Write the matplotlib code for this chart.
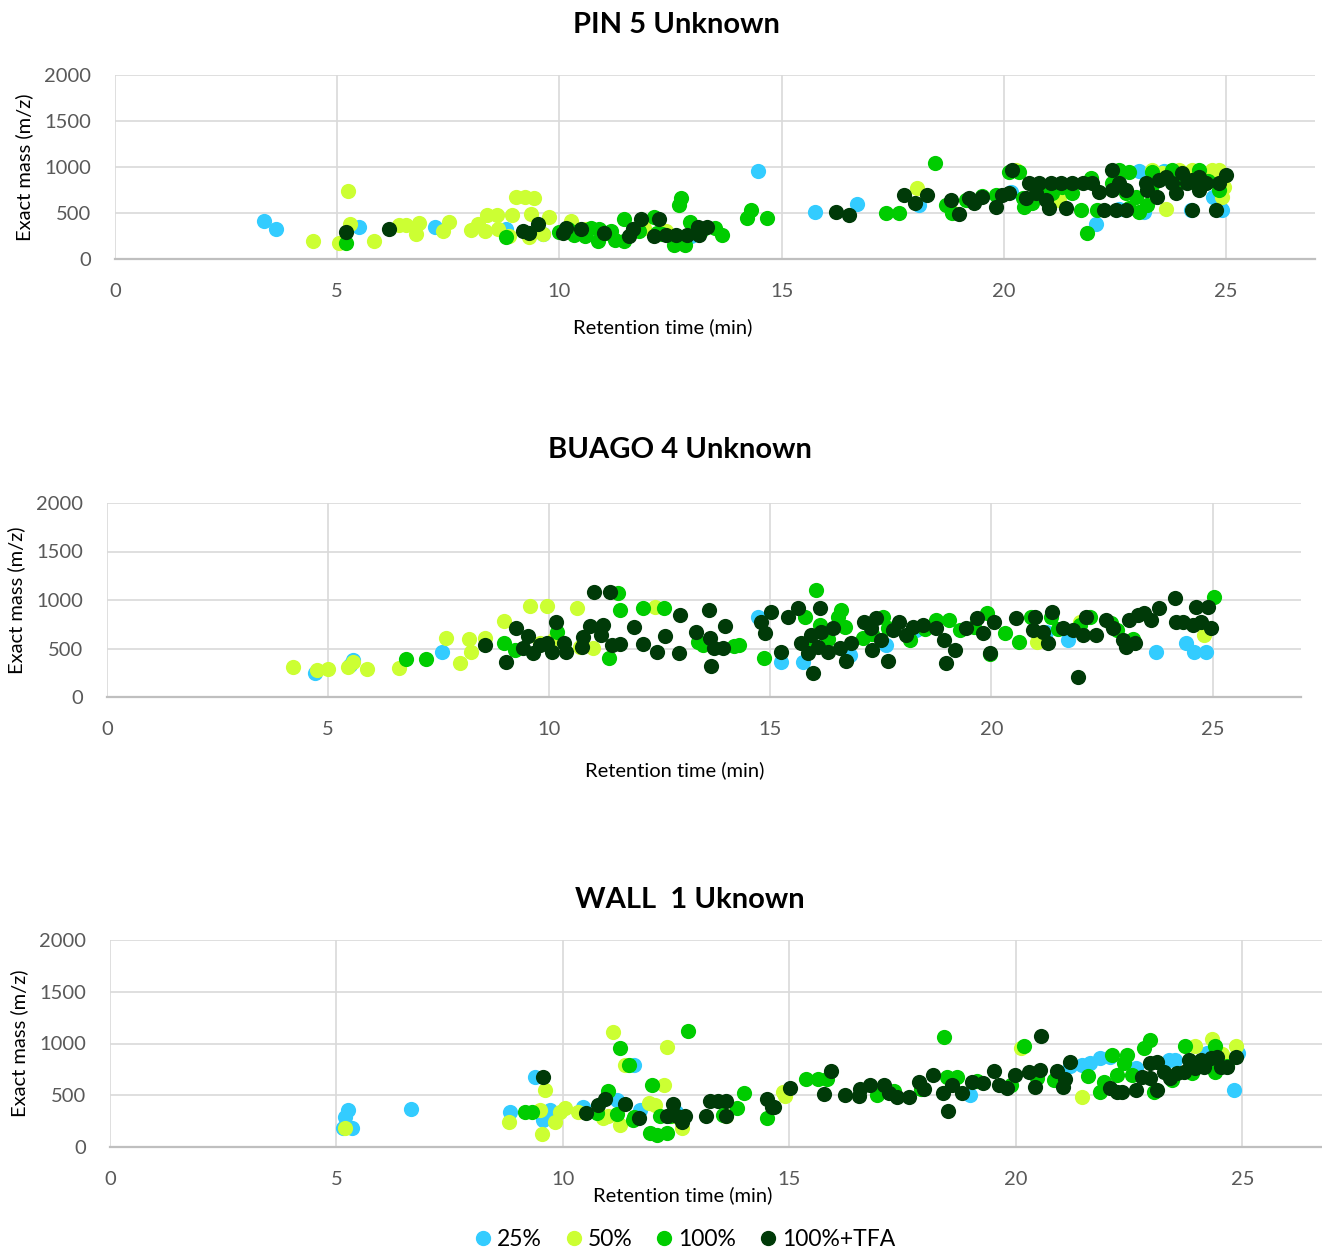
import matplotlib
matplotlib.use('Agg')
from matplotlib import pyplot as plt
from matplotlib.lines import Line2D

plt.rcParams['font.family'] = ['Lato', 'DejaVu Sans']

series_names = ['25%', '50%', '100%', '100%+TFA']
series_colors = ['#33CCFF', '#CCFF33', '#00CC00', '#003A08']

# PIN 5 Unknown  (retention time, exact mass)
pin_25 = [(3.35, 413), (3.62, 326), (5.49, 348), (7.2, 348), (8.8, 326), (9.62, 272), (12.97, 250),
          (14.46, 957), (15.76, 511), (16.7, 598), (18.1, 587), (20.17, 728), (22.08, 380), (23.04, 960),
          (23.16, 511), (24.2, 533), (24.7, 674), (24.8, 674), (24.89, 543), (24.9, 533), (23.6, 960),
          (22.6, 540)]
pin_50 = [(4.45, 200), (5.05, 170), (5.25, 740), (5.28, 380), (5.82, 200), (6.38, 370), (6.54, 370),
          (6.83, 391), (6.78, 270), (7.37, 304), (7.52, 402), (8.02, 315), (8.16, 380), (8.32, 304),
          (8.38, 478), (8.59, 478), (8.93, 478), (8.62, 330), (9.02, 679), (9.23, 679), (9.42, 667),
          (9.35, 489), (9.77, 456), (9.32, 239), (8.86, 250), (10.25, 413), (9.62, 272), (18.05, 772),
          (21.25, 641), (23.65, 543), (23.34, 967), (23.94, 967), (24.24, 967), (24.69, 967), (24.84, 967),
          (24.9, 674), (24.95, 783), (18.84, 511), (20.28, 967), (23.56, 935), (10.6, 330), (11.9, 340),
          (12.4, 300)]
pin_100 = [(5.19, 174), (8.8, 240), (10.0, 293), (10.33, 266), (10.57, 250), (10.72, 341), (10.87, 196),
           (11.03, 285), (11.17, 304), (11.26, 206), (11.45, 435), (11.45, 196), (11.65, 326), (12.12, 456),
           (12.19, 283), (12.58, 150), (12.82, 150), (12.7, 587), (12.73, 663), (12.93, 402), (13.51, 341),
           (13.66, 266), (14.21, 446), (14.31, 533), (14.68, 446), (18.46, 1047), (17.35, 500), (17.65, 500),
           (18.7, 587), (19.15, 641), (18.84, 500), (19.82, 696), (20.12, 949), (20.35, 949), (20.42, 663),
           (20.46, 569), (20.64, 609), (21.09, 717), (21.54, 717), (21.73, 533), (21.87, 286), (21.96, 880),
           (22.1, 533), (22.44, 826), (22.59, 967), (22.75, 717), (22.82, 949), (22.97, 677), (23.04, 514),
           (23.22, 587), (23.34, 949), (23.79, 967), (24.39, 967), (24.84, 750), (22.82, 550), (23.34, 800),
           (10.2, 330), (10.45, 300), (10.9, 330), (11.1, 280), (11.8, 300), (12.3, 270), (13.2, 320),
           (19.5, 690), (20.9, 700), (21.3, 780), (23.9, 830), (24.6, 850)]
pin_tfa = [(5.19, 293), (6.16, 326), (9.17, 304), (9.32, 285), (9.51, 380), (10.09, 285), (10.14, 341),
           (10.48, 330), (11.0, 285), (11.57, 250), (11.65, 326), (11.84, 435), (12.23, 435), (12.12, 250),
           (12.39, 266), (12.62, 266), (12.88, 266), (13.15, 266), (13.12, 352), (13.31, 352), (16.22, 514),
           (16.52, 478), (17.76, 696), (18.0, 612), (18.27, 696), (18.81, 641), (19.0, 489), (19.22, 663),
           (19.33, 609), (19.51, 674), (19.82, 569), (19.96, 696), (20.12, 717), (20.18, 967), (20.5, 663),
           (20.57, 826), (20.72, 717), (20.8, 826), (20.94, 641), (21.02, 554), (21.06, 826), (21.28, 826),
           (21.39, 554), (21.54, 826), (21.77, 826), (21.99, 826), (22.14, 732), (22.26, 533), (22.44, 967),
           (22.44, 750), (22.52, 533), (22.6, 826), (22.75, 533), (22.75, 750), (23.19, 826), (23.21, 750),
           (23.45, 677), (23.49, 859), (23.64, 894), (23.79, 826), (23.87, 717), (24.01, 935), (24.12, 826),
           (24.24, 533), (24.24, 859), (24.39, 894), (24.39, 750), (24.54, 826), (24.77, 533), (24.84, 826),
           (24.99, 913)]

# BUAGO 4 Unknown
buago_25 = [(4.7, 247), (5.56, 380), (5.5, 330), (7.57, 467), (14.72, 828), (15.25, 364), (15.74, 364),
            (16.8, 433), (17.62, 536), (18.3, 690), (21.24, 673), (21.72, 587), (23.71, 464), (24.4, 557),
            (24.59, 467), (24.86, 467)]
buago_50 = [(4.2, 313), (4.74, 278), (5.0, 289), (5.45, 313), (5.56, 361), (5.87, 289), (6.6, 302),
            (7.66, 608), (7.98, 350), (8.18, 598), (8.24, 467), (8.54, 611), (8.97, 784), (9.56, 941),
            (9.95, 941), (10.62, 917), (10.69, 519), (10.98, 505), (12.39, 931), (24.8, 639), (21.04, 570),
            (22.0, 776), (9.8, 560), (10.1, 600)]
buago_100 = [(6.77, 392), (7.21, 392), (8.97, 557), (9.22, 485), (10.17, 670), (11.35, 402), (11.55, 1075),
             (11.6, 897), (12.12, 917), (12.59, 917), (13.36, 570), (13.47, 536), (14.17, 529), (14.3, 536),
             (16.03, 1103), (14.85, 402), (15.78, 828), (16.12, 742), (16.6, 897), (16.52, 828), (16.68, 725),
             (17.09, 608), (17.54, 828), (17.65, 711), (18.15, 587), (18.75, 794), (19.05, 794), (19.28, 690),
             (19.91, 866), (20.3, 660), (20.63, 570), (20.9, 828), (21.35, 828), (22.0, 742), (22.22, 828),
             (22.85, 690), (25.04, 1034), (15.9, 540), (16.3, 600), (17.3, 650), (18.5, 700), (19.6, 720),
             (19.96, 440), (21.5, 700), (22.7, 760), (23.2, 600)]
buago_tfa = [(8.54, 536), (9.02, 364), (9.25, 714), (9.52, 629), (9.4, 505), (9.63, 454), (9.79, 536),
             (9.94, 557), (10.07, 464), (10.16, 773), (10.34, 557), (10.39, 467), (10.76, 622), (10.73, 519),
             (10.92, 735), (11.01, 1086), (11.18, 639), (11.21, 742), (11.37, 1086), (11.41, 536), (11.61, 546),
             (11.91, 725), (12.12, 546), (12.44, 464), (12.62, 629), (12.96, 845), (12.93, 454), (13.33, 673),
             (13.61, 897), (13.63, 608), (13.72, 508), (13.65, 323), (13.92, 508), (13.97, 735),
             (15.02, 879), (14.8, 776), (14.87, 660), (15.39, 828), (15.62, 917), (16.12, 917), (15.25, 464),
             (15.7, 557), (15.93, 639), (15.96, 247), (16.15, 673), (15.85, 454), (16.07, 519), (16.3, 464),
             (16.41, 711), (16.57, 505), (16.7, 371), (16.83, 557), (17.11, 776), (17.28, 711), (17.31, 485),
             (17.39, 814), (17.51, 587), (17.65, 371), (17.77, 690), (17.92, 776), (18.07, 639), (18.22, 725),
             (18.45, 742), (18.75, 711), (18.92, 587), (18.97, 350), (19.17, 485), (19.43, 714), (19.67, 814),
             (19.8, 660), (19.96, 454), (20.05, 776), (20.56, 814), (20.98, 828), (20.93, 690), (21.16, 673),
             (21.27, 557), (21.38, 879), (21.61, 711), (21.84, 690), (21.95, 209), (22.06, 639), (22.14, 828),
             (22.37, 639), (22.6, 794), (22.74, 711), (22.97, 587), (23.05, 519), (23.24, 557), (23.12, 794),
             (23.31, 845), (23.46, 866), (23.61, 794), (23.8, 917), (24.14, 1021), (24.18, 776), (24.33, 776),
             (24.55, 742), (24.63, 931), (24.74, 776), (24.89, 931), (24.97, 711)]

# WALL 1 Uknown
wall_25 = [(5.26, 357), (5.19, 293), (5.15, 180), (5.34, 180), (6.64, 364), (8.83, 341), (9.39, 679),
           (9.56, 261), (9.72, 357), (10.45, 389), (11.19, 454), (11.56, 792), (11.7, 357), (12.5, 340),
           (18.99, 502), (21.2, 780), (21.46, 792), (21.64, 811), (21.86, 860), (22.08, 873), (22.64, 763),
           (23.37, 841), (23.52, 841), (24.81, 551), (24.22, 908), (24.9, 908)]
wall_50 = [(5.19, 180), (8.8, 245), (9.61, 551), (9.53, 126), (9.5, 357), (9.83, 245), (9.94, 341),
           (10.05, 374), (10.34, 341), (10.89, 277), (11.1, 1114), (11.26, 213), (11.37, 792), (11.89, 422),
           (12.04, 406), (12.22, 599), (12.29, 963), (12.63, 180), (14.86, 531), (14.91, 493), (20.11, 953),
           (21.46, 480), (23.96, 976), (24.33, 1040), (24.85, 976), (24.54, 895), (11.0, 300), (12.4, 300),
           (13.6, 300)]
wall_100 = [(9.17, 341), (9.31, 341), (11.0, 544), (11.26, 953), (11.45, 792), (11.96, 599), (12.75, 1124),
            (13.99, 519), (13.84, 374), (14.5, 277), (11.19, 319), (11.56, 293), (11.93, 132), (12.07, 116),
            (12.29, 132), (12.15, 300), (12.37, 300), (13.54, 309), (10.75, 325), (11.54, 260), (15.37, 654),
            (15.64, 654), (15.82, 654), (16.93, 502), (18.42, 1060), (18.48, 679), (18.7, 679), (19.14, 640),
            (20.17, 976), (20.47, 663), (20.83, 647), (21.6, 686), (21.86, 534), (21.94, 631), (22.12, 889),
            (22.23, 696), (22.38, 809), (22.45, 889), (22.56, 696), (22.82, 953), (22.97, 1034), (23.04, 534),
            (23.45, 647), (23.74, 976), (23.89, 712), (24.4, 976), (24.4, 728), (24.65, 780), (17.3, 540),
            (17.9, 560), (19.9, 600)]
wall_tfa = [(9.56, 679), (10.51, 325), (10.78, 406), (10.93, 461), (11.36, 412), (11.67, 277), (12.29, 300),
            (12.44, 415), (12.52, 300), (12.63, 245), (12.7, 300), (13.16, 300), (13.25, 448), (13.43, 448),
            (13.61, 448), (13.6, 300), (14.5, 461), (14.61, 389), (14.65, 389), (15.02, 567), (15.77, 512),
            (15.92, 734), (16.23, 502), (16.53, 493), (16.56, 560), (16.78, 599), (17.08, 599), (17.19, 519),
            (17.37, 486), (17.63, 486), (17.85, 631), (17.96, 560), (18.18, 696), (18.4, 519), (18.49, 351),
            (18.58, 599), (18.81, 519), (19.03, 631), (19.28, 615), (19.51, 737), (19.62, 599), (19.8, 567),
            (19.98, 696), (20.28, 728), (20.43, 583), (20.54, 744), (20.55, 1073), (20.91, 737), (21.05, 583),
            (21.08, 660), (21.2, 824), (22.08, 567), (22.23, 534), (22.34, 534), (22.64, 551), (22.78, 679),
            (22.97, 815), (22.97, 663), (23.11, 551), (23.11, 824), (23.26, 728), (23.41, 663), (23.56, 712),
            (23.7, 728), (23.81, 841), (23.96, 760), (24.08, 841), (24.15, 776), (24.3, 857), (24.45, 873),
            (24.52, 776), (24.67, 776), (24.85, 873)]

panels = [
    ('PIN 5 Unknown', [pin_25, pin_50, pin_100, pin_tfa],
     [115, 259, 1315 - 115, 184], (676, 25), (663, 327), (24, 167)),
    ('BUAGO 4 Unknown', [buago_25, buago_50, buago_100, buago_tfa],
     [107, 697, 1301 - 107, 194], (680, 450), (675, 770), (16, 600)),
    ('WALL  1 Uknown', [wall_25, wall_50, wall_100, wall_tfa],
     [110, 1147, 1223, 207], (690, 900), (683, 1195), (19, 1043)),
]

W, H = 1322, 1255
fig = plt.figure(figsize=(W / 100, H / 100), dpi=100)

for title, data, box, tpos, xlpos, ylpos in panels:
    left, bottom, width, height = box
    ax = fig.add_axes([left / W, 1 - bottom / H, width / W, height / H])
    for pts, col in zip(data, series_colors):
        xs = [p[0] for p in pts]
        ys = [p[1] for p in pts]
        ax.scatter(xs, ys, s=120, color=col, linewidths=0, zorder=3)
    ax.set_xlim(0, 27)
    ax.set_ylim(0, 2000)
    ax.set_xticks([0, 5, 10, 15, 20, 25])
    ax.set_yticks([0, 500, 1000, 1500, 2000])
    ax.set_axisbelow(True)
    ax.grid(True, color='#D9D9D9', lw=1.2)
    for s in ['top', 'right', 'left']:
        ax.spines[s].set_visible(False)
    ax.spines['bottom'].set_color('#BFBFBF')
    ax.spines['bottom'].set_linewidth(1.6)
    ax.tick_params(length=0, labelsize=14.5, labelcolor='#595959')
    ax.tick_params(axis='y', pad=17)
    ax.tick_params(axis='x', pad=17)
    fig.text(tpos[0] / W, 1 - tpos[1] / H, title, ha='center', va='center',
             fontsize=21, fontweight='bold')
    fig.text(xlpos[0] / W, 1 - xlpos[1] / H, 'Retention time (min)', ha='center', va='center',
             fontsize=14.5)
    fig.text(ylpos[0] / W, 1 - ylpos[1] / H, 'Exact mass (m/z)', ha='center', va='center',
             fontsize=14.5, rotation=90)

handles = [Line2D([], [], ls='none', marker='o', ms=10, color=c, mec=c) for c in series_colors]
fig.legend(handles, series_names, loc='center', bbox_to_anchor=(682 / W, 1 - 1240 / H), ncol=4,
           frameon=False, fontsize=16.5, handletextpad=0.0, columnspacing=0.8, handlelength=1.2)

fig.savefig('out.png', dpi=100)
